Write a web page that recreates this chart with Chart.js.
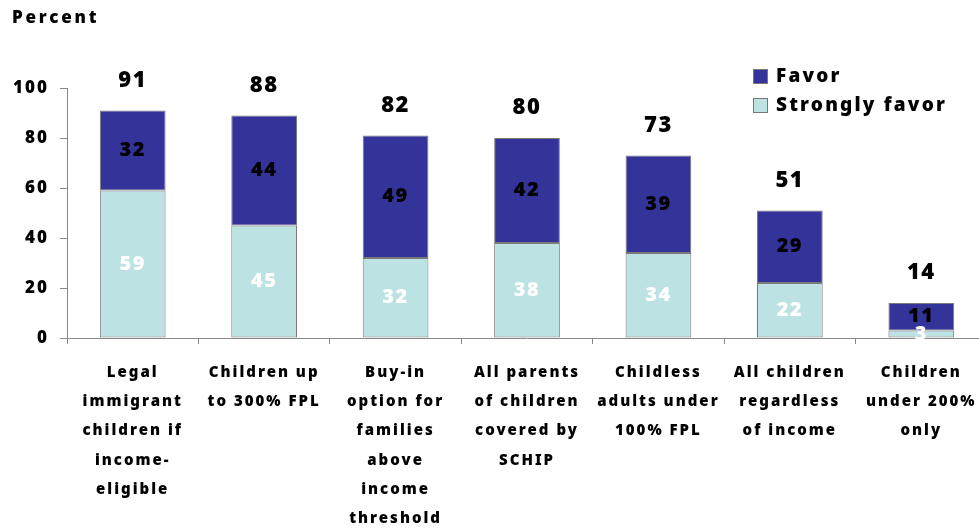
<!DOCTYPE html>
<html>
<head>
<meta charset="utf-8">
<script src="https://cdn.jsdelivr.net/npm/chart.js@4.4.1/dist/chart.umd.min.js"></script>
<style>
  html, body { margin: 0; padding: 0; background: #fff; overflow: hidden; }
  #wrap { position: relative; width: 990px; height: 529px; }
</style>
</head>
<body>
<div id="wrap"><canvas id="supportChart"></canvas></div>
<script>
var categories = [
  ["Legal", "immigrant", "children if", "income-", "eligible"],
  ["Children up", "to 300% FPL"],
  ["Buy-in", "option for", "families", "above", "income", "threshold"],
  ["All parents", "of children", "covered by", "SCHIP"],
  ["Childless", "adults under", "100% FPL"],
  ["All children", "regardless", "of income"],
  ["Children", "under 200%", "only"]
];
var stronglyFavor = [59, 45, 32, 38, 34, 22, 3];
var favor = [32, 44, 49, 42, 39, 29, 11];
var totals = [91, 88, 82, 80, 73, 51, 14];
var yTicks = [0, 20, 40, 60, 80, 100];

var FONT = "'Noto Sans', 'Liberation Sans', Arial, sans-serif";
var DARK = '#333399';
var LIGHT = '#bde2e4';

// wide letter spacing like the original graphic
var spacingPlugin = {
  id: 'spacing',
  beforeDraw: function (chart) {
    chart.ctx.letterSpacing = '2px';
  }
};

var labelsPlugin = {
  id: 'barLabels',
  afterDatasetsDraw: function (chart) {
    var ctx = chart.ctx;
    var lower = chart.getDatasetMeta(0).data;
    var upper = chart.getDatasetMeta(1).data;
    ctx.save();
    ctx.letterSpacing = '1.5px';
    ctx.textAlign = 'center';
    ctx.textBaseline = 'middle';
    ctx.font = '900 20px ' + FONT;
    lower.forEach(function (bar, i) {
      ctx.fillStyle = '#ffffff';
      ctx.fillText(String(stronglyFavor[i]), bar.x, (bar.y + bar.base) / 2);
    });
    upper.forEach(function (bar, i) {
      ctx.fillStyle = '#000000';
      ctx.fillText(String(favor[i]), bar.x, (bar.y + bar.base) / 2);
    });
    ctx.font = '900 22px ' + FONT;
    upper.forEach(function (bar, i) {
      ctx.fillStyle = '#000000';
      ctx.fillText(String(totals[i]), bar.x, bar.y - 30);
    });
    ctx.restore();
  },
  afterDraw: function (chart) {
    var ctx = chart.ctx;
    ctx.save();
    ctx.letterSpacing = '2.8px';
    ctx.fillStyle = '#000';
    ctx.font = '900 17px ' + FONT;
    ctx.textAlign = 'left';
    ctx.textBaseline = 'middle';
    ctx.fillText('Percent', 12, 18);
    // legend
    var items = [['Favor', DARK, 76], ['Strongly favor', LIGHT, 105]];
    ctx.font = '900 19px ' + FONT;
    ctx.letterSpacing = '2.2px';
    items.forEach(function (it) {
      ctx.fillStyle = it[1];
      ctx.fillRect(753, it[2] - 7, 15, 15);
      ctx.strokeStyle = '#777';
      ctx.lineWidth = 1;
      ctx.strokeRect(753.5, it[2] - 6.5, 14, 14);
      ctx.fillStyle = '#000';
      ctx.fillText(it[0], 776, it[2] + 1);
    });
    ctx.restore();
  }
};

new Chart(document.getElementById('supportChart'), {
  type: 'bar',
  data: {
    labels: categories,
    datasets: [{
      label: 'Strongly favor',
      data: stronglyFavor,
      backgroundColor: LIGHT,
      borderColor: '#7a7a7a',
      borderWidth: 1,
      borderSkipped: false
    }, {
      label: 'Favor',
      data: favor,
      backgroundColor: DARK,
      borderColor: '#7a7a7a',
      borderWidth: 1,
      borderSkipped: false
    }]
  },
  options: {
    responsive: true,
    maintainAspectRatio: false,
    animation: false,
    layout: { padding: { top: 88, right: 3, left: 0, bottom: 0 } },
    plugins: {
      legend: { display: false },
      tooltip: { enabled: false }
    },
    datasets: {
      bar: { categoryPercentage: 1.0, barPercentage: 0.5 }
    },
    scales: {
      x: {
        stacked: true,
        border: { color: '#8a8a8a', width: 1 },
        grid: { offset: true, drawOnChartArea: false, drawTicks: true, tickLength: 6, color: '#8a8a8a' },
        ticks: {
          color: '#000',
          padding: 14,
          maxRotation: 0,
          autoSkip: false,
          font: { family: FONT, size: 15, weight: '900', lineHeight: 1.95 }
        },
        afterFit: function (scale) { scale.height = 191; }
      },
      y: {
        stacked: true,
        min: 0,
        max: 100,
        afterBuildTicks: function (scale) {
          scale.ticks = yTicks.map(function (v) { return { value: v }; });
        },
        border: { color: '#8a8a8a', width: 1 },
        grid: { drawOnChartArea: false, drawTicks: true, tickLength: 7, color: '#8a8a8a' },
        ticks: {
          color: '#000',
          padding: 11,
          font: { family: FONT, size: 17, weight: '900' }
        },
        afterFit: function (scale) { scale.width = 67; }
      }
    }
  },
  plugins: [spacingPlugin, labelsPlugin]
});
</script>
</body>
</html>
